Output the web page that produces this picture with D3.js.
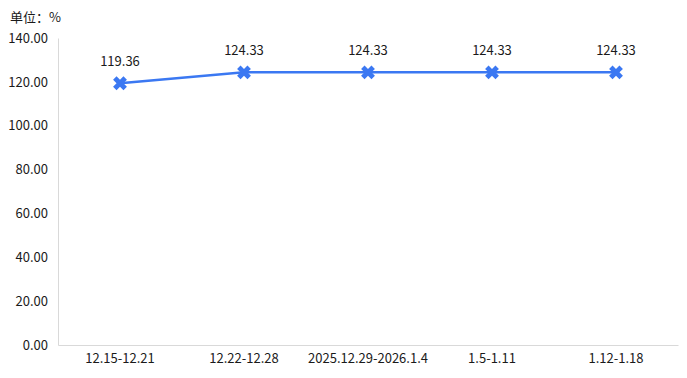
<!DOCTYPE html>
<html>
<head>
<meta charset="utf-8">
<script src="https://cdn.jsdelivr.net/npm/d3@7"></script>
<style>
  body { margin: 0; background: #fff; }
  text { font-family: "Noto Sans CJK SC", "Noto Sans", sans-serif; fill: #1a1a1a; }
</style>
</head>
<body>
<svg id="chart" width="687" height="378"></svg>
<script>
var categories = ["12.15-12.21", "12.22-12.28", "2025.12.29-2026.1.4", "1.5-1.11", "1.12-1.18"],
    values = [119.36, 124.33, 124.33, 124.33, 124.33],
    yTicks = [0, 20, 40, 60, 80, 100, 120, 140],
    unitLabel = "单位：%";

// note: "top" is a read-only global in browsers, so use plot_* names
var svg = d3.select("#chart"),
    plot_left = 58, plot_right = 678, plot_top = 38, plot_bottom = 345,
    blue = "#3b78f2";

var x = d3.scaleBand().domain(categories).range([plot_left, plot_right]),
    y = d3.scaleLinear().domain([0, 140]).range([plot_bottom, plot_top]);

svg.append("text")
    .attr("x", 10).attr("y", 22)
    .style("font-size", "13px")
    .text(unitLabel);

// y axis
var gy = svg.append("g").attr("transform", "translate(" + plot_left + ",0)")
    .call(d3.axisLeft(y).tickValues(yTicks).tickSize(0).tickPadding(10)
        .tickFormat(d3.format(".2f")));
gy.select(".domain").attr("stroke", "#d9d9d9");
gy.selectAll("text").style("font-size", "13px").attr("fill", "#1a1a1a");

// x axis
var gx = svg.append("g").attr("transform", "translate(0," + plot_bottom + ")")
    .call(d3.axisBottom(x).tickSize(0).tickPadding(9));
gx.select(".domain").attr("stroke", "#d9d9d9");
gx.selectAll("text").style("font-size", "13px").attr("fill", "#1a1a1a");

var cx = d => x(d.c) + x.bandwidth() / 2,
    data = categories.map((c, i) => ({ c: c, v: values[i] }));

svg.append("path")
    .datum(data)
    .attr("fill", "none")
    .attr("stroke", blue)
    .attr("stroke-width", 2.5)
    .attr("d", d3.line().x(cx).y(d => y(d.v)));

svg.selectAll(".mark")
    .data(data)
    .enter().append("path")
    .attr("class", "mark")
    .attr("transform", d => "translate(" + cx(d) + "," + y(d.v) + ") rotate(45)")
    .attr("d", d3.symbol(d3.symbolCross, 120))
    .attr("fill", blue);

svg.selectAll(".lbl")
    .data(data)
    .enter().append("text")
    .attr("class", "lbl")
    .attr("x", cx)
    .attr("y", d => y(d.v) - 17)
    .attr("text-anchor", "middle")
    .style("font-size", "13px")
    .text(d => d.v.toFixed(2));
</script>
</body>
</html>
